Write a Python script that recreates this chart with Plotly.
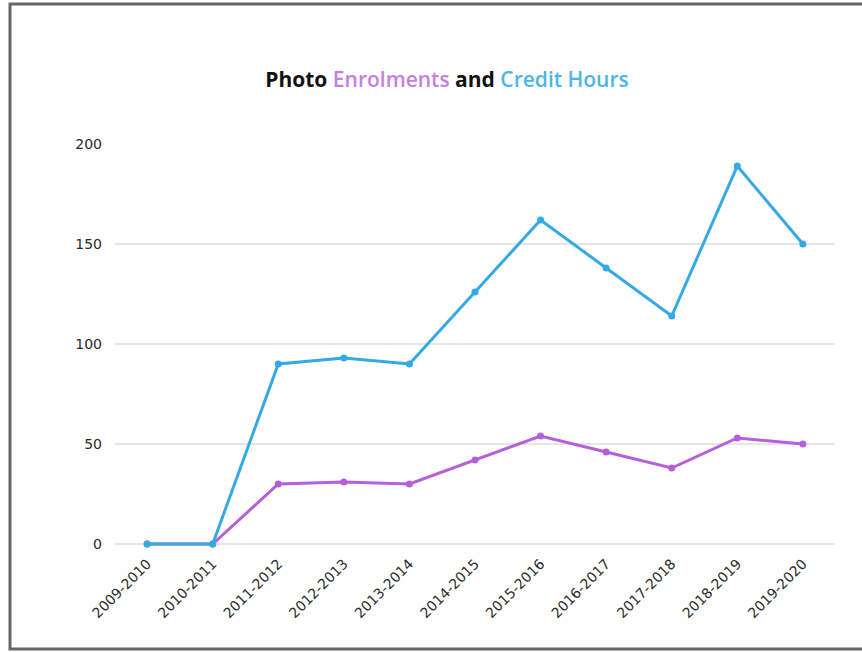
import plotly.graph_objects as go

# data
years = ['2009-2010', '2010-2011', '2011-2012', '2012-2013', '2013-2014', '2014-2015',
         '2015-2016', '2016-2017', '2017-2018', '2018-2019', '2019-2020']
enrolments = [0, 0, 30, 31, 30, 42, 54, 46, 38, 53, 50]
credit_hours = [0, 0, 90, 93, 90, 126, 162, 138, 114, 189, 150]

purple = '#B65FDB'
blue = '#34A9E6'

fig = go.Figure()
fig.add_trace(go.Scatter(x=years, y=enrolments, name='Enrolments', mode='lines+markers',
                         line=dict(color=purple, width=3), marker=dict(size=7, color=purple),
                         cliponaxis=False))
fig.add_trace(go.Scatter(x=years, y=credit_hours, name='Credit Hours', mode='lines+markers',
                         line=dict(color=blue, width=3), marker=dict(size=7, color=blue),
                         cliponaxis=False))

title = ('<span style="font-weight:700">Photo</span> '
         '<span style="color:#C67FDD">Enrolments</span> '
         '<span style="font-weight:700">and</span> '
         '<span style="color:#4DB4E6">Credit Hours</span>')

# plot area: x 115..835 px, y 140..548 px with 0 at 544 and 200 at 144 (2 px / unit)
fig.update_layout(
    width=862, height=652,
    margin=dict(l=115, r=27, t=144, b=104),
    paper_bgcolor='white', plot_bgcolor='white',
    showlegend=False,
    font=dict(family='DejaVu Sans', color='#333333'),
    title=dict(text=title, x=447 / 862, xanchor='center', y=1 - 80 / 652, yanchor='middle',
               font=dict(family='Open Sans', size=21, color='#111111', weight=600)),
    xaxis=dict(type='category', range=[-0.49, 10.49], tickangle=-45, showgrid=False,
               showline=False, zeroline=False, ticks='', ticklabelstandoff=4,
               tickfont=dict(size=14, color='#2a2a2a')),
    yaxis=dict(range=[-2, 200], tickvals=[0, 50, 100, 150, 200], showgrid=True,
               gridcolor='#E6E6E6', gridwidth=1.5, zeroline=False, showline=False, ticks='',
               ticklabelstandoff=12, tickfont=dict(size=14, color='#2a2a2a')),
    shapes=[dict(type='rect', xref='paper', yref='paper',
                 x0=(10 - 115) / 720, x1=(875 - 115) / 720,
                 y0=(548 - 649) / 404, y1=(548 - 4) / 404,
                 line=dict(color='#666666', width=3), layer='below')],
)

# drop the default 8px body margin so the figure fills the window
fig.write_html("out.html", config={'displayModeBar': False},
               post_script="document.body.style.margin='0';")
